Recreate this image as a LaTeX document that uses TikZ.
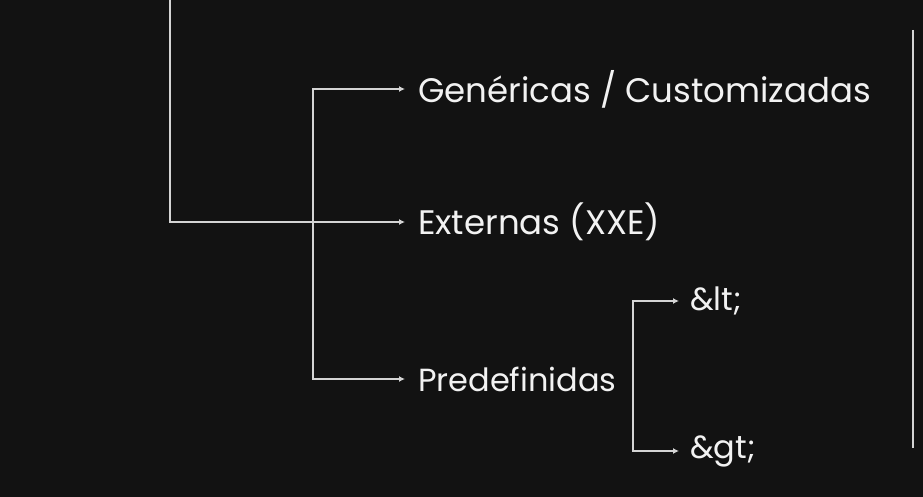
\documentclass[tikz,border=0pt]{standalone}
\usepackage{fontspec}
\setmainfont{Poppins}
\usetikzlibrary{arrows.meta}
\definecolor{bgdark}{HTML}{121212}
\definecolor{linegray}{HTML}{D4D4D4}
\definecolor{textwhite}{HTML}{F2F2F2}
\tikzset{
  branch/.style={draw=linegray, line width=2.2pt, -{Latex[length=6pt,width=6pt]}},
  plain/.style={draw=linegray, line width=2.2pt},
  entity/.style={text=textwhite, anchor=west, inner xsep=13pt, inner ysep=0pt,
    font=\fontsize{34}{40}\selectfont}
}
\begin{document}
\begin{tikzpicture}[x=1pt, y=-1pt]
  \fill[bgdark] (0,0) rectangle (923,497);
  \useasboundingbox (0,0) rectangle (923,497);
  % entity kinds
  \node[entity] (gen) at (405,89) {Genéricas / Customizadas};
  \node[entity] (ext) at (405,222) {Externas (XXE)};
  \node[entity, font=\fontsize{32}{38}\selectfont] (pre) at (405,379) {Predefinidas};
  \node[entity, inner xsep=11pt, font=\fontsize{32}{38}\selectfont] (lt) at (679,301) {\&lt;};
  \node[entity, inner xsep=11pt, font=\fontsize{32}{38}\selectfont] (gt) at (679,451) {\&gt;};
  % junctions
  \coordinate (root) at (170,0);
  \coordinate (split) at (313,222);
  \coordinate (predsplit) at (633,376);
  \coordinate (margtop) at (913,30);
  \coordinate (margbot) at (913,448);
  \draw[branch] (root) |- (ext.west);
  \draw[branch] (split) |- (gen.west);
  \draw[branch] (split) |- (pre.west);
  \draw[branch] (predsplit) |- (lt.west);
  \draw[branch] (predsplit) |- (gt.west);
  \draw[plain] (margtop) -- (margbot);
\end{tikzpicture}
\end{document}
